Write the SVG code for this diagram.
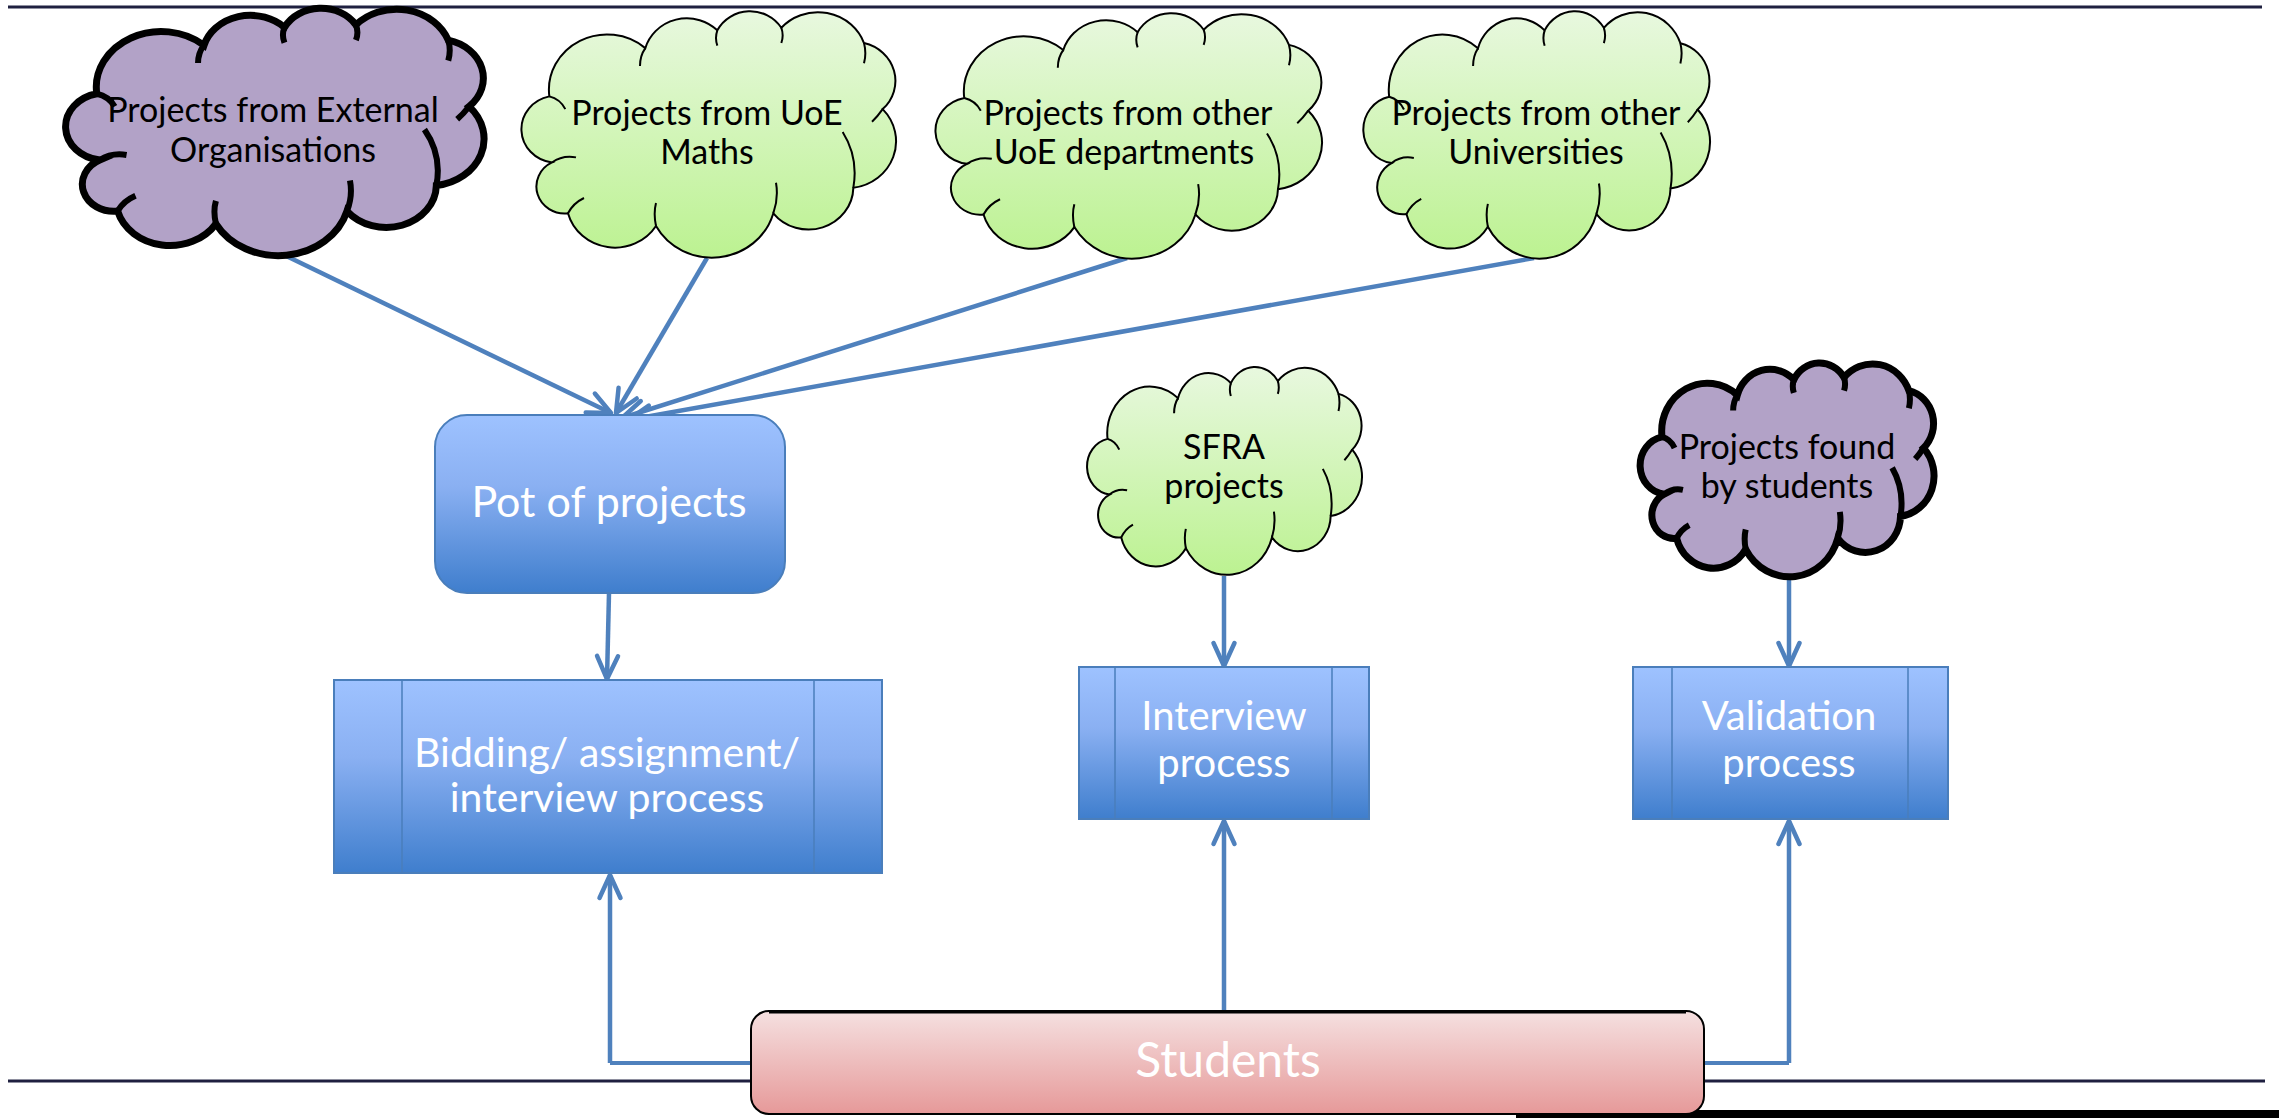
<svg xmlns="http://www.w3.org/2000/svg" width="2279" height="1118" viewBox="0 0 2279 1118">
<style>
  text { font-family: Lato, "Open Sans", "Liberation Sans", sans-serif; text-anchor: middle; }
  .ct { font-size: 34px; fill: #000; }
  .wt { fill: #fff; }
  .green { fill: url(#gGreen); stroke: #000; stroke-width: 2; }
  .purple { fill: #B2A2C7; stroke: #000; stroke-width: 7; }
  .inner-thin { fill: none; stroke: #000; stroke-width: 2; }
  .inner-thick { fill: none; stroke: #000; stroke-width: 6; }
  .proc { fill: url(#gBlue); stroke: #4A7EBB; stroke-width: 2; }
  .pline { stroke: #4A7EBB; stroke-width: 1.5; }
  .conn { fill: none; stroke: #4F81BD; stroke-width: 4.5; marker-end: url(#arr); }
  .connp { fill: none; stroke: #4F81BD; stroke-width: 4; }
</style>
<defs>
  <linearGradient id="gGreen" x1="0" y1="0" x2="0" y2="1">
    <stop offset="0" stop-color="#E8F8DF"/>
    <stop offset="1" stop-color="#BCF291"/>
  </linearGradient>
  <linearGradient id="gBlue" x1="0" y1="0" x2="0" y2="1">
    <stop offset="0" stop-color="#9EC2FF"/>
    <stop offset="0.4" stop-color="#8AB0F2"/>
    <stop offset="1" stop-color="#3F7ECD"/>
  </linearGradient>
  <linearGradient id="gPink" x1="0" y1="0" x2="0" y2="1">
    <stop offset="0" stop-color="#F5E0E0"/>
    <stop offset="1" stop-color="#E69999"/>
  </linearGradient>
  <marker id="arr" viewBox="-30 -16 36 32" markerWidth="36" markerHeight="32" refX="0" refY="0" orient="auto" markerUnits="userSpaceOnUse">
    <path d="M-23,-10.5 L0,0 L-23,10.5" fill="none" stroke="#4F81BD" stroke-width="4.5" stroke-linecap="round" stroke-linejoin="round"/>
  </marker>
  <path id="cloudShape" vector-effect="non-scaling-stroke" d="M15,34 A21.8,21.8 0 0 1 51,15 A16.2,16.2 0 0 1 78,8 A13.8,13.8 0 0 1 102,7 A18.4,18.4 0 0 1 133,13 A15.3,15.3 0 0 1 140,39 A18.5,18.5 0 0 1 129,70 A16.8,16.8 0 0 1 99,80 A23.9,23.9 0 0 1 55,85 A18.2,18.2 0 0 1 22,80 A10.6,10.6 0 0 1 16,60 A13.2,13.2 0 0 1 15,34 Z"/>
  <path id="cloudInner" vector-effect="non-scaling-stroke" d="M15,34 Q19,35 21,39 M16,60 Q20,57 25,58 M22,80 Q24,76 28,74 M55,85 Q54,80 55,76 M99,80 Q101,74 100,68 M129,70 Q131,58 125,48 M140,39 Q138,42 136,44 M133,13 Q134,17 133,21 M102,7 Q103,10 102,13 M78,8 Q77,11 78,14 M51,15 Q49,18 49,22"/>
</defs>

<rect x="0" y="0" width="2279" height="1118" fill="#fff"/>
<line x1="8" y1="7" x2="2262" y2="7" stroke="#1F2040" stroke-width="3"/>
<line x1="8" y1="1081" x2="2265" y2="1081" stroke="#1F2040" stroke-width="3"/>
<rect x="1516" y="1110" width="763" height="8" fill="#000"/>

<g id="connectors">
  <line class="conn" x1="278" y1="252" x2="611" y2="413"/>
  <line class="conn" x1="707" y1="258" x2="616" y2="413"/>
  <line class="conn" x1="1127" y1="258" x2="622" y2="418"/>
  <line class="conn" x1="1534" y1="258" x2="628" y2="420"/>
  <line class="conn" x1="609" y1="593" x2="607" y2="679"/>
  <line class="conn" x1="1224" y1="576" x2="1224" y2="666"/>
  <line class="conn" x1="1789" y1="578" x2="1789" y2="666"/>
  <path class="connp" d="M751,1063 H610" stroke-width="6"/>
  <path class="conn" d="M610,1063 V875"/>
  <path class="conn" d="M1224,1011 V821"/>
  <path class="connp" d="M1704,1063 H1789" stroke-width="6"/>
  <path class="conn" d="M1789,1063 V821"/>
</g>

<g id="cloud-external">
  <use href="#cloudShape" class="purple" transform="translate(52.09,7) scale(2.9787,2.551)"/>
  <use href="#cloudInner" class="inner-thick" transform="translate(52.09,7) scale(2.9787,2.551)"/>
  <text class="ct" x="273" y="122">Projects from External</text>
  <text class="ct" x="273" y="162">Organisations</text>
</g>

<g id="cloud-maths">
  <use href="#cloudShape" class="green" transform="translate(509.33,10) scale(2.6667,2.5408)"/>
  <use href="#cloudInner" class="inner-thin" transform="translate(509.33,10) scale(2.6667,2.5408)"/>
  <text class="ct" x="707" y="125">Projects from UoE</text>
  <text class="ct" x="707" y="164">Maths</text>
</g>

<g id="cloud-departments">
  <use href="#cloudShape" class="green" transform="translate(922.99,12) scale(2.7518,2.5306)"/>
  <use href="#cloudInner" class="inner-thin" transform="translate(922.99,12) scale(2.7518,2.5306)"/>
  <text class="ct" x="1128" y="125">Projects from other</text>
  <text class="ct" x="1124" y="164">UoE departments</text>
</g>

<g id="cloud-universities">
  <use href="#cloudShape" class="green" transform="translate(1352.13,10) scale(2.4681,2.551)"/>
  <use href="#cloudInner" class="inner-thin" transform="translate(1352.13,10) scale(2.4681,2.551)"/>
  <text class="ct" x="1536" y="125">Projects from other</text>
  <text class="ct" x="1536" y="164">Universities</text>
</g>

<g id="cloud-sfra">
  <use href="#cloudShape" class="green" transform="translate(1078.17,366) scale(1.9574,2.1429)"/>
  <use href="#cloudInner" class="inner-thin" transform="translate(1078.17,366) scale(1.9574,2.1429)"/>
  <text class="ct" x="1224" y="459">SFRA</text>
  <text class="ct" x="1224" y="498">projects</text>
</g>

<g id="cloud-students">
  <use href="#cloudShape" class="purple" transform="translate(1630.63,362) scale(2.0922,2.2041)"/>
  <use href="#cloudInner" class="inner-thick" transform="translate(1630.63,362) scale(2.0922,2.2041)"/>
  <text class="ct" x="1787" y="459">Projects found</text>
  <text class="ct" x="1787" y="498">by students</text>
</g>

<g id="pot">
  <rect class="proc" x="435" y="415" width="350" height="178" rx="32" ry="32"/>
  <text class="wt" x="609" y="517" font-size="43">Pot of projects</text>
</g>

<g id="bidding">
  <rect class="proc" x="334" y="680" width="548" height="193"/>
  <line class="pline" x1="402" y1="680" x2="402" y2="873"/>
  <line class="pline" x1="814" y1="680" x2="814" y2="873"/>
  <text class="wt" x="607" y="767" font-size="41">Bidding/ assignment/</text>
  <text class="wt" x="607" y="812" font-size="41">interview process</text>
</g>

<g id="interview">
  <rect class="proc" x="1079" y="667" width="290" height="152"/>
  <line class="pline" x1="1115" y1="667" x2="1115" y2="819"/>
  <line class="pline" x1="1332" y1="667" x2="1332" y2="819"/>
  <text class="wt" x="1224" y="730" font-size="40">Interview</text>
  <text class="wt" x="1224" y="777" font-size="40">process</text>
</g>

<g id="validation">
  <rect class="proc" x="1633" y="667" width="315" height="152"/>
  <line class="pline" x1="1672" y1="667" x2="1672" y2="819"/>
  <line class="pline" x1="1908" y1="667" x2="1908" y2="819"/>
  <text class="wt" x="1789" y="730" font-size="40">Validation</text>
  <text class="wt" x="1789" y="777" font-size="40">process</text>
</g>

<g id="students">
  <rect x="751" y="1011" width="953" height="103" rx="18" ry="18" fill="url(#gPink)" stroke="#000" stroke-width="2"/>
  <line x1="769" y1="1012" x2="1686" y2="1012" stroke="#000" stroke-width="3"/>
  <text class="wt" x="1228" y="1077" font-size="48">Students</text>
</g>
</svg>
